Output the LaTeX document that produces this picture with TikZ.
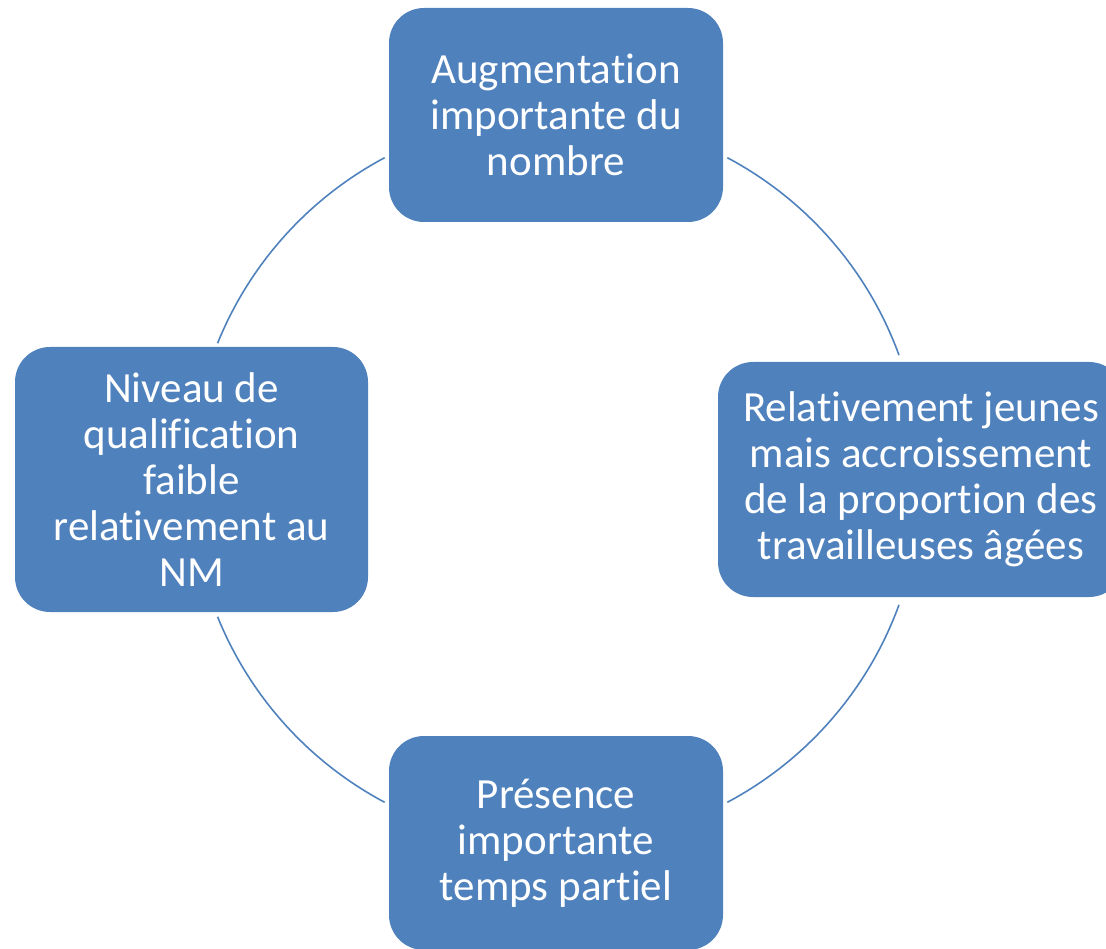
\documentclass[tikz,border=0pt]{standalone}
\usepackage{fontspec}
\setmainfont{Carlito}[Ligatures=NoCommon]
\definecolor{boxblue}{HTML}{4F81BD}
\tikzset{
  cyclebox/.style={fill=boxblue, draw=none, rounded corners=35pt, inner sep=0pt,
    align=center, text=white, font=\fontsize{43}{46}\selectfont},
  cyclearc/.style={draw=boxblue, line width=1.6pt}
}
\begin{document}
\begin{tikzpicture}[x=1pt,y=1pt]
\useasboundingbox (0,0) rectangle (1106,-949);
\clip (0,0) rectangle (1106,-949);
\coordinate (c) at (556,-480);
% arcs of the cycle
\draw[cyclearc] (c) ++(62:365) arc[start angle=62, end angle=20, radius=365];
\draw[cyclearc] (c) ++(-20:365) arc[start angle=-20, end angle=-62, radius=365];
\draw[cyclearc] (c) ++(-118:365) arc[start angle=-118, end angle=-158, radius=365];
\draw[cyclearc] (c) ++(158:365) arc[start angle=158, end angle=118, radius=365];
% boxes
\node[cyclebox, minimum width=334pt, minimum height=214pt] (top) at (556,-115)
  {Augmentation\\importante du\\nombre};
\node[cyclebox, minimum width=406pt, minimum height=235pt] (right) at (921,-479.5)
  {Relativement jeunes\\mais accroissement\\de la proportion des\\travailleuses âgées};
\node[cyclebox, minimum width=334pt, minimum height=214pt] (bottom) at (556,-843)
  {Présence\\importante\\temps partiel};
\node[cyclebox, minimum width=353pt, minimum height=265pt] (left) at (191.5,-479.5)
  {Niveau de\\qualification\\faible\\relativement au\\NM};
\end{tikzpicture}
\end{document}
